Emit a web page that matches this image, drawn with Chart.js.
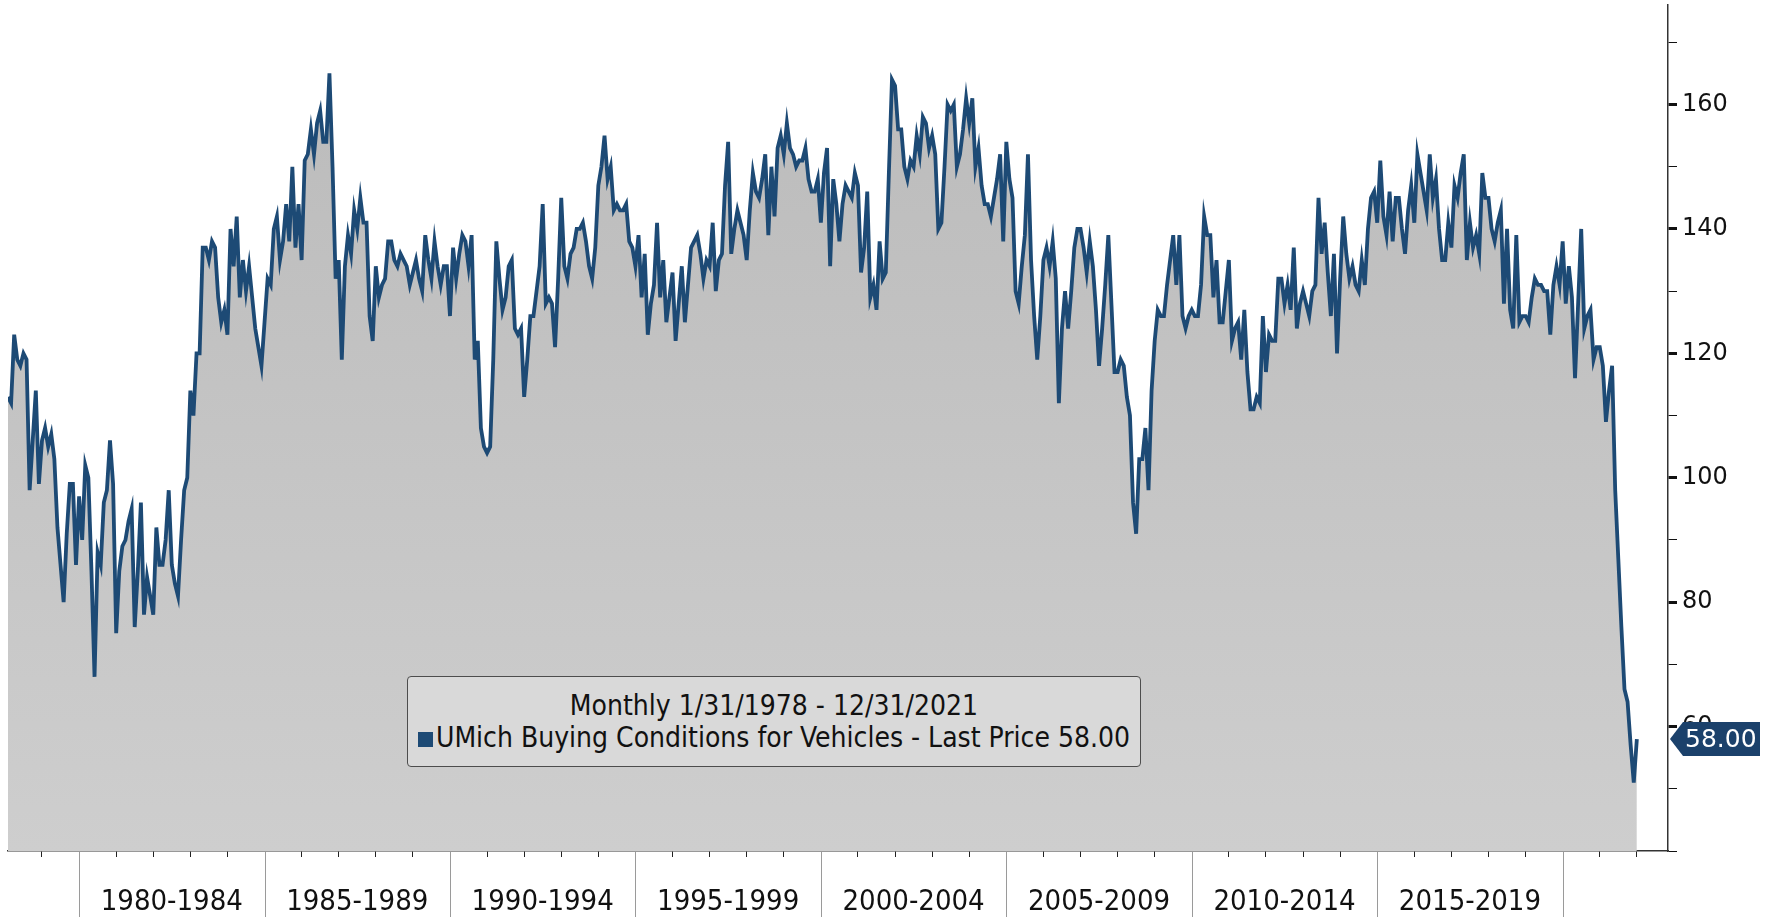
<!DOCTYPE html>
<html>
<head>
<meta charset="utf-8">
<script src="https://cdn.jsdelivr.net/npm/chart.js@4.4.0/dist/chart.umd.min.js"></script>
<style>
  html, body { margin: 0; padding: 0; background: #fff; }
  #wrap { position: relative; width: 1766px; height: 917px; overflow: hidden; }
  #legendBox {
    position: absolute; left: 407px; top: 676px; width: 734px; height: 91px;
    box-sizing: border-box; background: #d9d9d9; border: 1.5px solid #4d4d4d; border-radius: 4px;
    font-family: "Liberation Sans Narrow", "DejaVu Sans Condensed", sans-serif;
    font-size: 28px; color: #111; text-align: center; line-height: 32px; padding-top: 13px;
    white-space: nowrap;
  }
  .sq { display: inline-block; width: 15px; height: 15px; background: #1d4a75; margin-right: 3px; }
</style>
</head>
<body>
<div id="wrap">
  <canvas id="myChart" width="1766" height="917"></canvas>
  <div id="legendBox">
    <div>Monthly 1/31/1978 - 12/31/2021</div>
    <div><span class="sq"></span>UMich Buying Conditions for Vehicles - Last Price 58.00</div>
  </div>
</div>
<script>
// monthly values, Jan 1978 .. Dec 2021 (one row per year)
const vehicleIndex = [
  113, 112, 123, 119, 118, 120, 119, 98, 106, 114, 99, 106,   // 1978
  108, 105, 107, 103, 92, 86, 80, 91, 99, 99, 86, 97,         // 1979
  90, 102, 100, 85, 68, 88, 86, 96, 98, 106, 99, 75,          // 1980
  85, 89, 90, 93, 95, 76, 85, 96, 78, 84, 81, 78,             // 1981
  92, 86, 86, 90, 98, 86, 83, 81, 90, 98, 100, 114,           // 1982
  110, 120, 120, 137, 137, 135, 138, 137, 129, 125, 127, 123, // 1983
  140, 134, 142, 129, 135, 130, 134, 129, 124, 121, 118, 125, // 1984
  132, 131, 140, 142, 135, 138, 144, 138, 150, 137, 144, 135, // 1985
  151, 152, 156, 152, 157, 159, 154, 154, 165, 150, 132, 135, // 1986
  119, 134, 139, 136, 143, 140, 145, 141, 141, 126, 122, 134, // 1987
  129, 131, 132, 138, 138, 135, 134, 136, 135, 134, 131, 133, // 1988
  135, 132, 130, 139, 135, 132, 138, 134, 131, 134, 134, 126, // 1989
  137, 132, 136, 139, 138, 134, 139, 119, 122, 108, 105, 104, // 1990
  105, 119, 138, 132, 127, 129, 134, 135, 124, 123, 124, 113, // 1991
  119, 126, 126, 130, 134, 144, 128, 129, 128, 121, 132, 145, // 1992
  134, 132, 136, 137, 140, 140, 141, 138, 134, 132, 137, 147, // 1993
  150, 155, 148, 150, 143, 144, 143, 143, 144, 138, 137, 134, // 1994
  139, 129, 136, 123, 128, 131, 141, 129, 135, 125, 129, 133, // 1995
  122, 128, 134, 125, 131, 137, 138, 139, 136, 132, 135, 134, // 1996
  141, 130, 135, 136, 147, 154, 136, 140, 143, 141, 139, 135, // 1997
  143, 149, 146, 145, 148, 152, 139, 150, 142, 153, 155, 152, // 1998
  157, 153, 152, 150, 151, 151, 153, 148, 146, 146, 148, 141, // 1999
  149, 153, 134, 148, 144, 138, 144, 147, 146, 145, 149, 147, // 2000
  133, 137, 146, 129, 131, 127, 138, 132, 133, 149, 164, 163, // 2001
  156, 156, 150, 148, 151, 150, 155, 152, 158, 157, 153, 155, // 2002
  152, 140, 141, 150, 160, 159, 160, 150, 152, 156, 161, 157, // 2003
  161, 150, 153, 147, 144, 144, 142, 145, 148, 152, 138, 154, // 2004
  148, 145, 130, 128, 134, 139, 152, 135, 126, 119, 126, 135, // 2005
  137, 134, 138, 132, 112, 124, 130, 124, 130, 137, 140, 140, // 2006
  137, 133, 138, 134, 127, 118, 124, 131, 139, 128, 117, 117, // 2007
  119, 118, 113, 110, 96, 91, 103, 103, 108, 98, 114, 122,    // 2008
  127, 126, 126, 131, 135, 139, 131, 139, 126, 124, 126, 127, // 2009
  126, 126, 131, 142, 139, 139, 129, 135, 125, 125, 130, 135, // 2010
  122, 124, 125, 119, 127, 117, 111, 111, 113, 112, 126, 117, // 2011
  123, 122, 122, 132, 132, 128, 131, 127, 137, 124, 128, 130, // 2012
  128, 126, 130, 131, 145, 136, 141, 133, 126, 136, 120, 132, // 2013
  142, 136, 132, 134, 131, 130, 135, 131, 140, 145, 146, 141, // 2014
  151, 142, 139, 146, 138, 145, 145, 140, 136, 143, 147, 141, // 2015
  152, 149, 146, 143, 152, 145, 148, 140, 135, 135, 141, 137, // 2016
  147, 145, 149, 152, 135, 141, 137, 139, 136, 149, 145, 145, // 2017
  140, 138, 141, 143, 128, 140, 127, 124, 139, 125, 126, 126, // 2018
  125, 129, 132, 131, 131, 130, 130, 123, 131, 134, 131, 138, // 2019
  128, 134, 129, 116, 128, 140, 124, 126, 127, 119, 121, 121, // 2020
  118, 109, 114, 118, 98, 87, 76, 66, 64, 57, 51, 58          // 2021
];
const startYear = 1978;
const lastPrice = 58.00;

const periodStarts = [1980, 1985, 1990, 1995, 2000, 2005, 2010, 2015];
const periodLabels = ['1980-1984', '1985-1989', '1990-1994', '1995-1999',
                      '2000-2004', '2005-2009', '2010-2014', '2015-2019'];
const yTickValues = [40, 50, 60, 70, 80, 90, 100, 110, 120, 130, 140, 150, 160, 170];
const yLabelValues = [60, 80, 100, 120, 140, 160];

const lineColor = '#1d4a75';

// month-end positions as decimal years
const points = vehicleIndex.map((v, i) => ({ x: startYear + (i + 1) / 12, y: v }));

// long grey separators between the 5-year blocks
const periodLines = {
  id: 'periodLines',
  afterDraw(chart) {
    const c = chart.ctx;
    const xs = chart.scales.x;
    c.save();
    c.strokeStyle = '#9a9a9a';
    c.lineWidth = 1;
    periodStarts.concat([2020]).forEach(yr => {
      const px = Math.round(xs.getPixelForValue(yr)) + 0.5;
      c.beginPath();
      c.moveTo(px, xs.top + 1);
      c.lineTo(px, chart.height);
      c.stroke();
    });
    c.restore();
  }
};

// last price tag on the right axis
const lastTag = {
  id: 'lastTag',
  afterDraw(chart) {
    const c = chart.ctx;
    const ys = chart.scales.y;
    const y = ys.getPixelForValue(lastPrice);
    const x0 = ys.left + 2;
    const x1 = x0 + 13;
    const x2 = 1760;
    const h = 17;
    c.save();
    c.fillStyle = '#1b416b';
    c.beginPath();
    c.moveTo(x0, y);
    c.lineTo(x1, y - h);
    c.lineTo(x2, y - h);
    c.lineTo(x2, y + h);
    c.lineTo(x1, y + h);
    c.closePath();
    c.fill();
    c.fillStyle = '#ffffff';
    c.font = '25px "DejaVu Sans"';
    c.textBaseline = 'middle';
    c.textAlign = 'left';
    c.fillText(lastPrice.toFixed(2), x1 + 2, y + 1);
    c.restore();
  }
};

function noPadding(scale) {
  scale.paddingTop = 0;
  scale.paddingBottom = 0;
  scale.paddingLeft = 0;
  scale.paddingRight = 0;
}

const ctx = document.getElementById('myChart').getContext('2d');
const myChart = new Chart(ctx, {
  type: 'line',
  data: {
    datasets: [{
      label: 'UMich Buying Conditions for Vehicles',
      data: points,
      borderColor: lineColor,
      borderWidth: 3.8,
      pointRadius: 0,
      tension: 0,
      fill: 'start',
      backgroundColor: function (context) {
        const area = context.chart.chartArea;
        if (!area) return '#c6c6c6';
        const g = context.chart.ctx.createLinearGradient(0, area.top, 0, area.bottom);
        g.addColorStop(0, '#bababa');
        g.addColorStop(1, '#cecece');
        return g;
      }
    }]
  },
  options: {
    responsive: false,
    animation: false,
    layout: { padding: { left: 8, top: 5, right: 0, bottom: 0 } },
    plugins: {
      legend: { display: false },
      tooltip: { enabled: false }
    },
    scales: {
      x: {
        type: 'linear',
        min: startYear + 1 / 12,
        max: 2022.84,
        afterBuildTicks: function (scale) {
          const t = [];
          for (let yr = 1979; yr <= 2022; yr++) t.push({ value: yr });
          periodStarts.forEach(p => t.push({ value: p + 2.5 }));
          t.sort((a, b) => a.value - b.value);
          scale.ticks = t;
        },
        afterFit: function (scale) { scale.height = 66; noPadding(scale); },
        ticks: {
          autoSkip: false,
          maxRotation: 0,
          padding: 28,
          color: '#111',
          font: { family: '"Liberation Sans Narrow", "DejaVu Sans Condensed", sans-serif', size: 29 },
          callback: function (value) {
            const k = periodStarts.indexOf(value - 2.5);
            return k >= 0 ? periodLabels[k] : '';
          }
        },
        grid: {
          drawOnChartArea: false,
          tickLength: 6,
          tickColor: function (c) {
            const v = c.tick ? c.tick.value : 0;
            if (!Number.isInteger(v) || v % 5 === 0 && v <= 2020) return 'rgba(0,0,0,0)';
            return '#222';
          }
        },
        border: { display: true, color: '#333', width: 1.5 }
      },
      y: {
        position: 'right',
        min: 40,
        max: 176,
        afterBuildTicks: function (scale) {
          scale.ticks = yTickValues.map(v => ({ value: v }));
        },
        afterFit: function (scale) { scale.width = 98; noPadding(scale); },
        ticks: {
          padding: 5,
          color: '#111',
          font: { family: '"DejaVu Sans"', size: 24 },
          callback: function (value) {
            return yLabelValues.includes(value) ? String(value) : '';
          }
        },
        grid: {
          drawOnChartArea: false,
          tickLength: 9,
          tickColor: '#111',
          tickWidth: function (c) {
            return c.tick && yLabelValues.includes(c.tick.value) ? 3 : 1;
          }
        },
        border: { display: true, color: '#333', width: 1.5 }
      }
    }
  },
  plugins: [periodLines, lastTag]
});
</script>
</body>
</html>
